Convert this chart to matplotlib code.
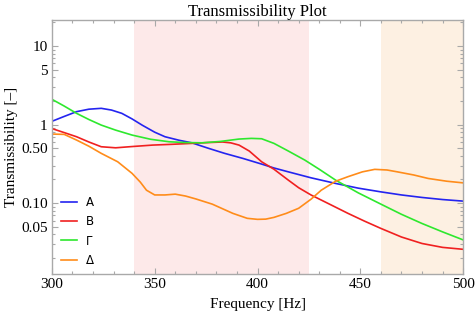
import matplotlib
matplotlib.use("Agg")
import matplotlib.pyplot as plt
from matplotlib.ticker import FixedLocator, NullFormatter, MultipleLocator

# values (frequency in Hz, transmissibility)
freq_a = [300, 306, 312, 318, 324, 329, 334, 339, 344, 350, 355, 362, 368, 376, 384, 393, 402,
          408, 415, 426, 438, 449, 460, 470, 480, 490, 500]
val_a = [1.10, 1.27, 1.46, 1.57, 1.61, 1.53, 1.39, 1.18, 0.98, 0.80, 0.70, 0.63, 0.586, 0.50, 0.43,
         0.37, 0.314, 0.28, 0.25, 0.21, 0.178, 0.155, 0.139, 0.127, 0.118, 0.111, 0.106]

freq_b = [300, 306, 312, 318, 324, 331, 339, 349, 358, 368, 376, 383, 387, 391, 396, 402, 408,
          415, 420, 426, 435, 444, 452, 460, 470, 480, 490, 500]
val_b = [0.89, 0.79, 0.70, 0.60, 0.522, 0.506, 0.525, 0.548, 0.56, 0.576, 0.59, 0.60, 0.585, 0.548,
         0.46, 0.336, 0.27, 0.196, 0.157, 0.127, 0.097, 0.074, 0.059, 0.0476, 0.037, 0.0306, 0.0273, 0.0258]

freq_g = [300, 306, 312, 318, 324, 331, 339, 348, 357, 365, 373, 382, 391, 397, 402, 408, 415,
          423, 430, 438, 449, 460, 470, 480, 490, 500]
val_g = [2.10, 1.72, 1.39, 1.16, 0.985, 0.85, 0.735, 0.65, 0.604, 0.59, 0.586, 0.61, 0.654, 0.667,
         0.66, 0.576, 0.46, 0.353, 0.27, 0.196, 0.135, 0.097, 0.072, 0.055, 0.043, 0.034]

freq_d = [300, 306, 312, 318, 324, 332, 339, 343, 346, 350, 355, 360, 365, 370, 378, 388, 395,
          400, 404, 408, 414, 420, 426, 431, 438, 444, 451, 457, 463, 468, 476, 483, 492, 500]
val_d = [0.757, 0.75, 0.635, 0.53, 0.43, 0.336, 0.239, 0.185, 0.146, 0.127, 0.127, 0.130, 0.123,
         0.113, 0.097, 0.074, 0.064, 0.0621, 0.0625, 0.0658, 0.074, 0.0859, 0.112, 0.146, 0.19,
         0.217, 0.25, 0.269, 0.264, 0.25, 0.228, 0.206, 0.19, 0.181]

series_names = ["A", "B", "Γ", "Δ"]
band_pink = (340, 425)
band_orange = (460, 500)

y_major = [0.05, 0.1, 0.5, 1, 5, 10]
y_major_labels = ["0.05", "0.10", "0.50", "1", "5", "10"]
y_minor = [0.02, 0.03, 0.04, 0.06, 0.07, 0.08, 0.09, 0.2, 0.3, 0.4,
           0.6, 0.7, 0.8, 0.9, 2, 3, 4, 6, 7, 8, 9, 20]

serif = ["Liberation Serif", "DejaVu Serif"]
frame_col = "#a9a9a9"

fig = plt.figure(figsize=(4.76, 3.19), dpi=100)
ax = fig.add_axes([0.109, 0.141, 0.864, 0.796])

ax.axvspan(*band_pink, color="#fde9e9", lw=0, zorder=0)
ax.axvspan(*band_orange, color="#fdf0e2", lw=0, zorder=0)

colors = ["#2424f0", "#f02020", "#2ee82e", "#ff8c1a"]
for f, v, name, c in zip([freq_a, freq_b, freq_g, freq_d],
                         [val_a, val_b, val_g, val_d], series_names, colors):
    ax.plot(f, v, color=c, lw=1.2, label=name, solid_joinstyle="round")

ax.set_yscale("log")
ax.set_xlim(300, 500)
ax.set_ylim(0.0125, 21.4)

ax.xaxis.set_major_locator(MultipleLocator(50))
ax.xaxis.set_minor_locator(MultipleLocator(10))
ax.yaxis.set_major_locator(FixedLocator(y_major))
ax.yaxis.set_minor_locator(FixedLocator(y_minor))
ax.set_yticklabels(y_major_labels)
ax.yaxis.set_minor_formatter(NullFormatter())

ax.tick_params(which="both", direction="in", top=True, right=True,
               color=frame_col, width=0.8)
ax.tick_params(which="major", length=4)
ax.tick_params(which="minor", length=2)
ax.tick_params(labelsize=11, pad=3)
for lab in ax.get_xticklabels() + ax.get_yticklabels():
    lab.set_family(serif)
for s in ax.spines.values():
    s.set_color(frame_col)
    s.set_linewidth(1.0)

ax.set_title("Transmissibility Plot", family=serif, fontsize=12, pad=3)
ax.set_xlabel("Frequency [Hz]", family=serif, fontsize=11, labelpad=5)
ax.set_ylabel("Transmissibility [–]", family=serif, fontsize=11, labelpad=2)

leg = ax.legend(loc="lower left", frameon=False, fontsize=8.5,
                handlelength=1.3, handletextpad=0.75, labelspacing=0.55,
                borderpad=0.3, bbox_to_anchor=(0.0, -0.01))

fig.savefig("out.png", dpi=100)
